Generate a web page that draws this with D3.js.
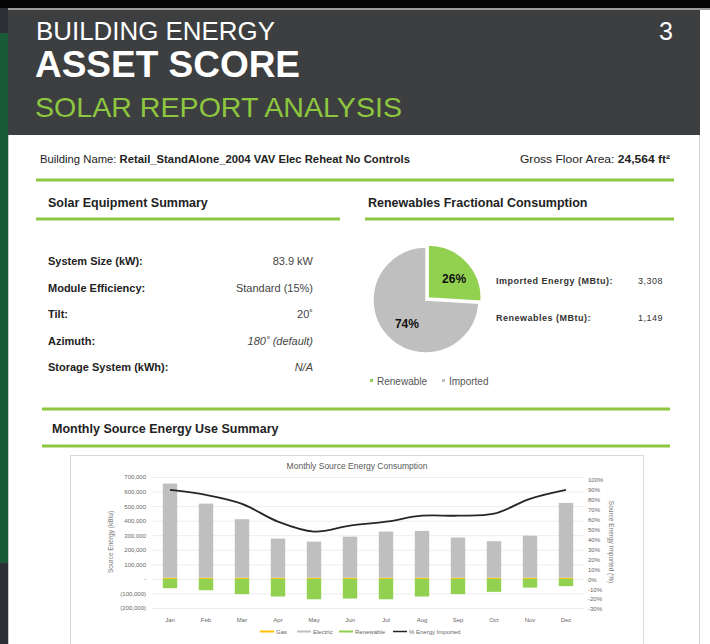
<!DOCTYPE html>
<html>
<head>
<meta charset="utf-8">
<script src="https://cdn.jsdelivr.net/npm/d3@7"></script>
<style>
  body { margin: 0; background: #ffffff; }
  svg { display: block; font-family: "Liberation Sans", Arial, sans-serif; }
</style>
</head>
<body>
<div id="page"></div>
<script>
let months = ["Jan", "Feb", "Mar", "Apr", "May", "Jun", "Jul", "Aug", "Sep", "Oct", "Nov", "Dec"];
let gas = [8000, 8000, 8000, 8000, 8000, 8000, 8000, 8000, 8000, 8000, 8000, 8000];
let electric = [647000, 509000, 402000, 269000, 248000, 282000, 317000, 322000, 276000, 251000, 289000, 514000];
let renewable = [-64000, -78000, -105000, -121000, -140000, -135000, -140000, -121000, -105000, -89000, -60000, -50000];
let pctImported = [90, 85, 76, 58, 48, 54, 58, 64, 64, 66, 81, 90];

let leftTicks = [-200000, -100000, 0, 100000, 200000, 300000, 400000, 500000, 600000, 700000];
let rightTicks = [-30, -20, -10, 0, 10, 20, 30, 40, 50, 60, 70, 80, 90, 100];

let pieLabels = ["Renewable", "Imported"];
let pieValues = [26, 74];

let equipLabels = ["System Size (kW):", "Module Efficiency:", "Tilt:", "Azimuth:", "Storage System (kWh):"];
let equipValues = ["83.9 kW", "Standard (15%)", "20˚", "180˚ (default)", "N/A"];
let equipItalic = [false, false, false, true, true];

let energyLabels = ["Imported Energy (MBtu):", "Renewables (MBtu):"];
let energyValues = ["3,308", "1,149"];

let legendNames = ["Gas", "Electric", "Renewable", "% Energy Imported"];

// colours
let green = "#8dc63f";
let barGrey = "#bfbfbf";
let barGreen = "#92d050";
let barGas = "#ffc000";

let svg = d3.select("#page").append("svg")
    .attr("width", 710)
    .attr("height", 644);

// ---- page frame ----
svg.append("rect").attr("x", 0).attr("y", 0).attr("width", 710).attr("height", 644).attr("fill", "#ffffff");
svg.append("rect").attr("x", 0).attr("y", 0).attr("width", 8).attr("height", 644).attr("fill", "#2c3034");
svg.append("rect").attr("x", 0).attr("y", 33).attr("width", 8).attr("height", 530).attr("fill", "#1b5a37");
svg.append("rect").attr("x", 0).attr("y", 0).attr("width", 710).attr("height", 8).attr("fill", "#050505");
svg.append("rect").attr("x", 8).attr("y", 8).attr("width", 702).attr("height", 2).attr("fill", "#9a9a9a");
svg.append("line").attr("x1", 699.5).attr("x2", 699.5).attr("y1", 135).attr("y2", 644)
    .attr("stroke", "#d0d0d0").attr("stroke-width", 1);
svg.append("line").attr("x1", 8.5).attr("x2", 8.5).attr("y1", 135).attr("y2", 644)
    .attr("stroke", "#c8c8c8").attr("stroke-width", 1);

// header band
svg.append("rect").attr("x", 8).attr("y", 10).attr("width", 692).attr("height", 125).attr("fill", "#3d3e40");
svg.append("text").attr("x", 36).attr("y", 40).attr("fill", "#ffffff")
    .style("font-size", "25px").attr("textLength", 239).attr("lengthAdjust", "spacingAndGlyphs")
    .text("BUILDING ENERGY");
svg.append("text").attr("x", 35).attr("y", 77).attr("fill", "#ffffff")
    .style("font-size", "36px").style("font-weight", "bold").attr("textLength", 265).attr("lengthAdjust", "spacingAndGlyphs")
    .text("ASSET SCORE");
svg.append("text").attr("x", 35).attr("y", 117).attr("fill", green)
    .style("font-size", "28px").attr("textLength", 367).attr("lengthAdjust", "spacingAndGlyphs")
    .text("SOLAR REPORT ANALYSIS");
svg.append("text").attr("x", 673).attr("y", 40).attr("fill", "#ffffff").attr("text-anchor", "end")
    .style("font-size", "25px").text("3");

// building line
let bName = svg.append("text").attr("x", 40).attr("y", 163).style("font-size", "11px").attr("fill", "#222")
    .attr("textLength", 370).attr("lengthAdjust", "spacingAndGlyphs");
bName.append("tspan").text("Building Name: ");
bName.append("tspan").style("font-weight", "bold").text("Retail_StandAlone_2004 VAV Elec Reheat No Controls");
let gfa = svg.append("text").attr("x", 520).attr("y", 163)
    .style("font-size", "11px").attr("fill", "#222")
    .attr("textLength", 150).attr("lengthAdjust", "spacingAndGlyphs");
gfa.append("tspan").text("Gross Floor Area: ");
gfa.append("tspan").style("font-weight", "bold").text("24,564 ft²");

function greenRule(x1, x2, y) {
    svg.append("line").attr("x1", x1).attr("x2", x2).attr("y1", y).attr("y2", y)
        .attr("stroke", green).attr("stroke-width", 3);
}
greenRule(36, 674, 180);
greenRule(36, 340, 219);
greenRule(365, 674, 219);
greenRule(42, 670, 409);
greenRule(42, 670, 446);

svg.append("text").attr("x", 48).attr("y", 207).style("font-size", "12.5px").style("font-weight", "bold")
    .attr("fill", "#222").text("Solar Equipment Summary");
svg.append("text").attr("x", 368).attr("y", 207).style("font-size", "12.5px").style("font-weight", "bold")
    .attr("fill", "#222").text("Renewables Fractional Consumption");
svg.append("text").attr("x", 52).attr("y", 433).style("font-size", "12.5px").style("font-weight", "bold")
    .attr("fill", "#222").text("Monthly Source Energy Use Summary");

// ---- equipment table ----
let rowY = d3.scalePoint().domain(d3.range(equipLabels.length)).range([265, 371]);
equipLabels.forEach((lab, i) => {
    svg.append("text").attr("x", 48).attr("y", rowY(i)).style("font-size", "11px").style("font-weight", "bold")
        .attr("fill", "#222").text(lab);
    svg.append("text").attr("x", 313).attr("y", rowY(i)).attr("text-anchor", "end").style("font-size", "11px")
        .style("font-style", equipItalic[i] ? "italic" : "normal")
        .attr("fill", "#444").text(equipValues[i]);
});

// ---- pie ----
let pieData = d3.pie().sort(null)(pieValues);
let arc = d3.arc().innerRadius(0).outerRadius(53);
let pieColor = d3.scaleOrdinal().domain(pieLabels).range([barGreen, barGrey]);
let pieG = svg.append("g").attr("transform", "translate(426,300)");
pieG.selectAll("path")
    .data(pieData)
    .enter()
    .append("path")
    .attr("d", arc)
    .attr("fill", (d, i) => pieColor(pieLabels[i]))
    .attr("stroke", "#ffffff")
    .attr("stroke-width", 1.5)
    .attr("transform", (d, i) => {
        if (i !== 0) return null;
        let a = (d.startAngle + d.endAngle) / 2;
        return `translate(${Math.sin(a) * 3},${-Math.cos(a) * 3})`;
    });
let labelArc = d3.arc().innerRadius(26).outerRadius(40);
pieG.selectAll(".pct")
    .data(pieData)
    .enter()
    .append("text")
    .attr("class", "pct")
    .attr("transform", (d, i) => {
        let c = labelArc.centroid(d);
        return i === 0 ? `translate(${c[0] + 4},${c[1] + 1})` : `translate(${c[0] + 5},${c[1] + 1})`;
    })
    .attr("text-anchor", "middle")
    .attr("dy", "0.35em")
    .style("font-size", "12px")
    .style("font-weight", "bold")
    .attr("fill", "#111")
    .text(d => d.data + "%");

energyLabels.forEach((lab, i) => {
    let y = 284 + i * 37;
    svg.append("text").attr("x", 496).attr("y", y).style("font-size", "9px").style("font-weight", "bold")
        .style("letter-spacing", "0.5px").attr("fill", "#333").text(lab);
    svg.append("text").attr("x", 663).attr("y", y).attr("text-anchor", "end").style("font-size", "9px")
        .style("letter-spacing", "0.5px").attr("fill", "#333").text(energyValues[i]);
});

let pieLegendX = [370, 442];
pieLabels.forEach((lab, i) => {
    svg.append("rect").attr("x", pieLegendX[i]).attr("y", 379).attr("width", 3).attr("height", 3)
        .attr("fill", pieColor(lab));
    svg.append("text").attr("x", pieLegendX[i] + 7).attr("y", 385).style("font-size", "10px")
        .attr("fill", "#555").text(lab);
});

// ---- monthly chart ----
svg.append("rect").attr("x", 70.5).attr("y", 455.5).attr("width", 573).attr("height", 200)
    .attr("fill", "#ffffff").attr("stroke", "#d9d9d9");
svg.append("text").attr("x", 357).attr("y", 469).attr("text-anchor", "middle").style("font-size", "8.5px")
    .attr("fill", "#595959").text("Monthly Source Energy Consumption");

let x = d3.scaleBand().domain(months).range([152, 584]).paddingInner(0.6).paddingOuter(0.3);
let yL = d3.scaleLinear().domain([-200000, 700000]).range([608, 477]);
let yR = d3.scaleLinear().domain([-30, 100]).range([609, 480]);

// gridlines
svg.append("g").selectAll("line")
    .data(leftTicks)
    .enter()
    .append("line")
    .attr("x1", 152).attr("x2", 584)
    .attr("y1", d => yL(d) + 0.5).attr("y2", d => yL(d) + 0.5)
    .attr("stroke", "#ececec").attr("stroke-width", 1);

function styleAxis(g) {
    g.select(".domain").remove();
    g.selectAll("text")
        .style("font-size", "6px")
        .style("fill", "#666")
        .style("font-family", "Liberation Sans, Arial, sans-serif");
}

let fmtLeft = d => d === 0 ? "-" : (d < 0 ? "(" + d3.format(",")(-d) + ")" : d3.format(",")(d));
svg.append("g").attr("transform", "translate(146,0)")
    .call(d3.axisLeft(yL).tickValues(leftTicks).tickFormat(fmtLeft).tickSize(0).tickPadding(0))
    .call(styleAxis);

svg.append("g").attr("transform", "translate(588,0)")
    .call(d3.axisRight(yR).tickValues(rightTicks).tickFormat(d => d + "%").tickSize(0).tickPadding(0))
    .call(styleAxis);

svg.append("g").attr("transform", "translate(0,618)")
    .call(d3.axisBottom(x).tickSize(0).tickPadding(0))
    .call(styleAxis);

svg.append("text").attr("transform", "translate(113,542) rotate(-90)").attr("text-anchor", "middle")
    .style("font-size", "6.5px").style("fill", "#777").text("Source Energy (kBtu)");
svg.append("text").attr("transform", "translate(609,542) rotate(90)").attr("text-anchor", "middle")
    .style("font-size", "6.5px").style("fill", "#777").text("Source Energy Imported (%)");

// stacked bars
let bars = svg.append("g");
months.forEach((m, i) => {
    bars.append("rect").attr("x", x(m)).attr("width", x.bandwidth())
        .attr("y", yL(gas[i])).attr("height", yL(0) - yL(gas[i])).attr("fill", barGas);
    bars.append("rect").attr("x", x(m)).attr("width", x.bandwidth())
        .attr("y", yL(gas[i] + electric[i])).attr("height", yL(gas[i]) - yL(gas[i] + electric[i]))
        .attr("fill", barGrey);
    bars.append("rect").attr("x", x(m)).attr("width", x.bandwidth())
        .attr("y", yL(0)).attr("height", yL(renewable[i]) - yL(0)).attr("fill", barGreen);
});

// % imported line
let line = d3.line()
    .x((d, i) => x(months[i]) + x.bandwidth() / 2)
    .y(d => yR(d))
    .curve(d3.curveCatmullRom.alpha(0.5));
svg.append("path").datum(pctImported).attr("d", line)
    .attr("fill", "none").attr("stroke", "#262626").attr("stroke-width", 1.8);

// legend
let legendColors = [barGas, barGrey, barGreen, "#262626"];
let legendX = [260, 297, 339, 393];
legendNames.forEach((n, i) => {
    svg.append("line").attr("x1", legendX[i]).attr("x2", legendX[i] + 14).attr("y1", 631.5).attr("y2", 631.5)
        .attr("stroke", legendColors[i]).attr("stroke-width", i === 3 ? 1.5 : 2);
    svg.append("text").attr("x", legendX[i] + 16).attr("y", 634).style("font-size", "6px")
        .style("fill", "#666").text(n);
});
</script>
</body>
</html>
